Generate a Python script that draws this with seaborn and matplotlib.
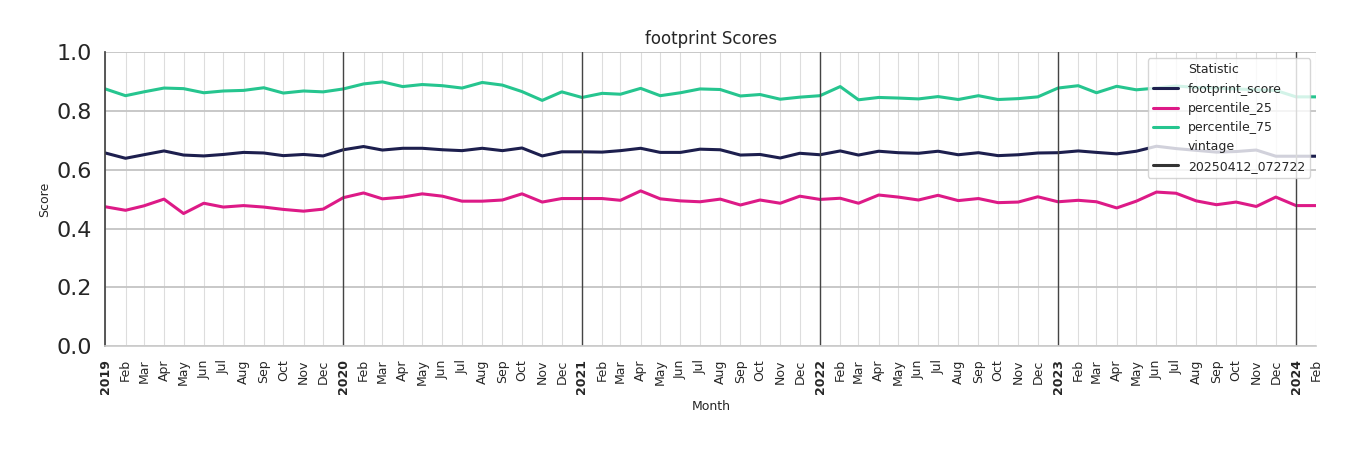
import matplotlib
matplotlib.use("Agg")
import matplotlib.pyplot as plt
import seaborn as sns
import pandas as pd
import numpy as np

months = pd.date_range("2019-01-01", "2024-02-01", freq="MS")
footprint_score = [0.657,0.639,0.651,0.664,0.650,0.647,0.652,0.659,0.657,0.648,0.652,0.647,
 0.668,0.679,0.667,0.673,0.673,0.668,0.665,0.673,0.665,0.674,0.647,0.661,
 0.661,0.660,0.665,0.673,0.659,0.659,0.670,0.668,0.650,0.652,0.640,0.656,
 0.651,0.664,0.650,0.663,0.658,0.656,0.663,0.651,0.658,0.648,0.651,0.657,
 0.658,0.664,0.659,0.654,0.663,0.680,0.672,0.666,0.660,0.662,0.667,0.646,
 0.646,0.646]
percentile_25 = [0.474,0.462,0.477,0.500,0.451,0.486,0.473,0.478,0.473,0.465,0.459,0.466,
 0.505,0.521,0.501,0.507,0.518,0.510,0.493,0.493,0.497,0.518,0.490,0.502,
 0.502,0.502,0.496,0.528,0.501,0.494,0.491,0.500,0.480,0.497,0.486,0.510,
 0.499,0.503,0.486,0.514,0.507,0.497,0.513,0.495,0.502,0.488,0.490,0.508,
 0.491,0.496,0.491,0.470,0.493,0.524,0.520,0.494,0.481,0.490,0.475,0.507,
 0.478,0.478]
percentile_75 = [0.875,0.852,0.865,0.878,0.876,0.862,0.868,0.870,0.879,0.861,0.868,0.865,
 0.875,0.892,0.899,0.883,0.890,0.886,0.878,0.897,0.888,0.866,0.836,0.865,
 0.846,0.860,0.857,0.877,0.852,0.862,0.875,0.873,0.851,0.856,0.840,0.847,
 0.852,0.883,0.838,0.846,0.844,0.841,0.849,0.839,0.852,0.839,0.842,0.848,
 0.878,0.886,0.862,0.884,0.872,0.878,0.885,0.880,0.878,0.875,0.872,0.870,
 0.848,0.848]
stats = {"footprint_score": footprint_score, "percentile_25": percentile_25, "percentile_75": percentile_75}
palette = {"footprint_score": "#1d1f4e", "percentile_25": "#dd1a87", "percentile_75": "#26c58f"}

rows = []
for k, v in stats.items():
    for m, val in zip(months, v):
        rows.append({"Month": m, "Score": val, "Statistic": k, "vintage": "20250412_072722"})
df = pd.DataFrame(rows)

sns.set_theme(style="whitegrid")
fig = plt.figure(figsize=(13.5, 4.5), dpi=100)
ax = fig.add_axes([0.078, 0.231, 0.897, 0.653])
sns.lineplot(data=df, x="Month", y="Score", hue="Statistic", style="vintage",
             palette=palette, linewidth=2.2, ax=ax)
ax.set_xlim(months[0], months[-1])
ax.set_ylim(0, 1.0)
ax.set_xticks(months)
labels = [str(m.year) if m.month == 1 else m.strftime("%b") for m in months]
ax.set_xticklabels(labels, rotation=90, fontsize=9)
for t, m in zip(ax.get_xticklabels(), months):
    if m.month == 1:
        t.set_fontweight("bold")
ax.tick_params(axis="y", labelsize=16)
ax.grid(axis="x", color="#dddddd", linewidth=0.8)
ax.grid(axis="y", color="#c4c4c4", linewidth=1.3)
for m in months:
    if m.month == 1 and m != months[0]:
        ax.axvline(m, color="#444444", linewidth=1)
for s in ["top", "right"]:
    ax.spines[s].set_visible(False)
ax.spines["left"].set_color("#444444")
ax.spines["bottom"].set_color("#cccccc")
ax.set_title("footprint Scores", fontsize=12)
ax.set_xlabel("Month", fontsize=9)
ax.set_ylabel("Score", fontsize=9)
leg = ax.legend(loc="upper right", fontsize=9, framealpha=0.8)
fig.savefig("out.png", dpi=100)
